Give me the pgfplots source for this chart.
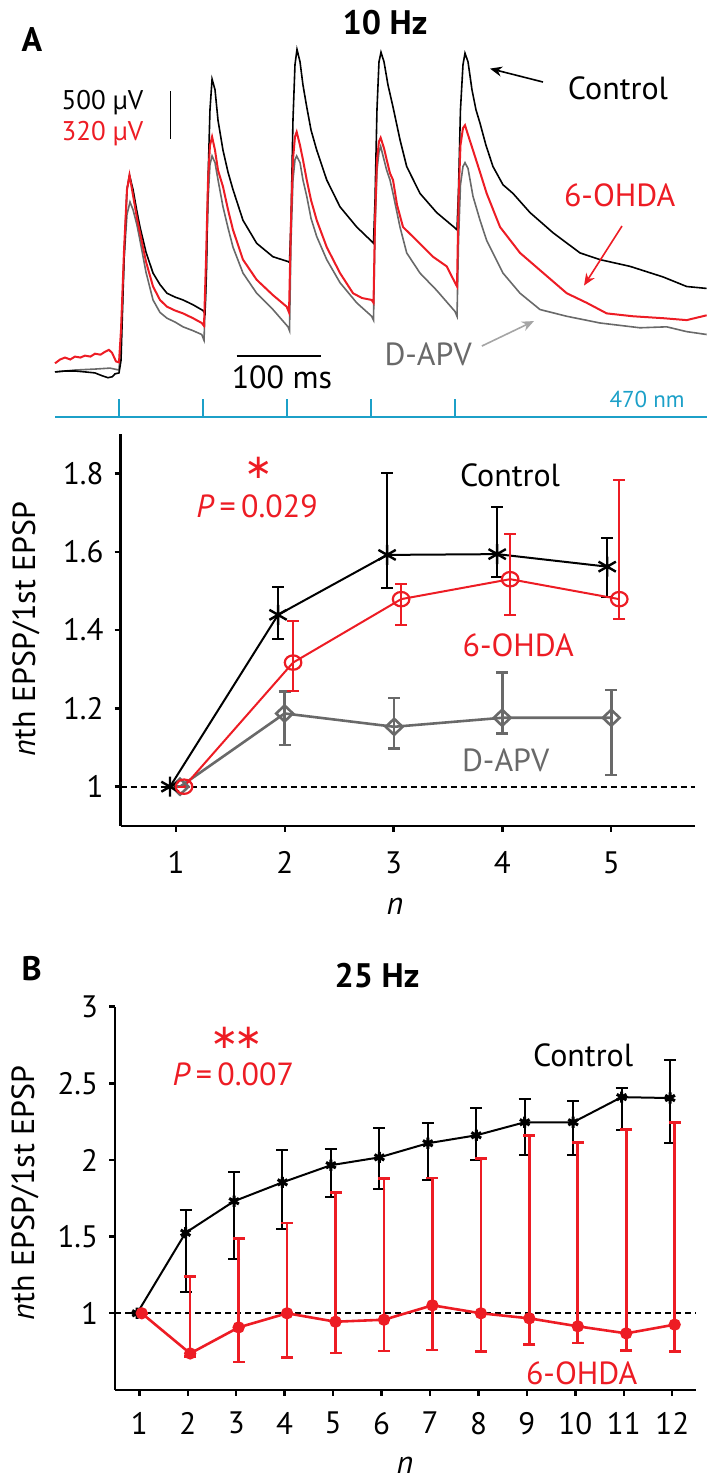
\documentclass[border=0pt]{standalone}
\usepackage{pgfplots}
\pgfplotsset{compat=1.18}
\usepackage{fontspec}
\setmainfont{PT Sans}
\newfontfamily\dejavu{DejaVu Sans}
\usetikzlibrary{arrows.meta,plotmarks}
\definecolor{myred}{RGB}{237,28,36}
\definecolor{mygray}{RGB}{105,105,105}
\definecolor{mycyan}{RGB}{28,160,200}
\definecolor{lightarrow}{RGB}{165,165,165}
\begin{document}
\fontsize{16}{19}\selectfont
\begin{tikzpicture}
\useasboundingbox (0,0) rectangle (354.5pt,742pt);
% ---------------- traces (panel A, top) ----------------
\begin{axis}[at={(25.9pt,530.1pt)}, anchor=south west, scale only axis,
  width=327.6pt, height=194.4pt, xmin=-80, xmax=700, ymin=-0.55, ymax=3.5,
  hide axis, clip=false]
\addplot[mygray, line width=0.8pt] coordinates {
(-76.2,-0.01) (-52.4,0.01) (-28.6,0.02) (-10.7,0.03) (0,0.01)
(2.4,0.32) (6,1.16) (9.5,1.63) (13.1,1.76) (16.7,1.68) (21.4,1.52) (25,1.36) (32.1,1.03) (40.5,0.74) (48.8,0.61) (57.1,0.55) (66.7,0.51) (76.2,0.46) (88.1,0.42) (98.5,0.38) (101.2,0.32)
(103.6,0.95) (106,1.78) (108.3,2.15) (110.8,2.24) (114.3,2.17) (117.9,1.99) (123.8,1.71) (129.8,1.49) (135.7,1.29) (147.6,1.02) (163.9,0.81) (183.3,0.64) (201.2,0.46) (203,0.42)
(204.8,1.36) (207.1,1.99) (209.5,2.20) (211.5,2.24) (215.5,2.17) (219,1.99) (223.5,1.82) (228.6,1.59) (235.4,1.40) (247.3,1.16) (263.1,0.92) (283,0.71) (300.8,0.57) (303,0.53)
(304.8,1.47) (307.1,2.09) (309.5,2.28) (311.5,2.34) (315.5,2.20) (318.7,2.09) (322.6,1.99) (326.2,1.85) (334.5,1.50) (342.5,1.23) (358.3,1.02) (378.2,0.84) (400,0.62) (402.4,0.57)
(404.2,1.36) (406.5,1.94) (409.5,2.13) (411.9,2.17) (415.5,2.11) (421.4,1.82) (429.8,1.57) (437.7,1.36) (457.1,1.02) (477.4,0.81) (501.2,0.64) (533,0.57) (572.6,0.50) (620.2,0.45) (652,0.46) (675.8,0.41) (699.6,0.38)};
\addplot[black, line width=0.8pt] coordinates {
(-76.2,-0.01) (-64,0.0) (-52.4,0.0) (-40,-0.01) (-28.6,-0.02) (-20,-0.05) (-13.1,-0.07) (-8,-0.06) (-4.8,-0.03) (0,-0.02)
(2.4,0.11) (6.0,1.16) (9.5,1.89) (12.5,2.04) (16.7,1.89) (21.4,1.66) (25,1.50) (32.1,1.24) (40.5,1.02) (48.8,0.90) (57.1,0.81) (66.7,0.77) (76.2,0.74) (88.1,0.69) (100,0.63) (102.4,0.60)
(104,1.0) (106,1.99) (108.3,2.72) (110.8,3.04) (114.3,2.93) (117.9,2.61) (123.8,2.30) (129.8,2.07) (135.7,1.89) (147.6,1.57) (163.9,1.33) (183.3,1.19) (201.2,1.14) (203,1.13)
(204.8,1.57) (207.1,2.61) (209.5,3.19) (211.9,3.35) (215.5,3.22) (219,2.98) (223.5,2.75) (228.6,2.51) (235.4,2.30) (247.3,1.99) (263.1,1.71) (283,1.50) (300.8,1.35) (303,1.33)
(304.8,1.78) (307.1,2.72) (309.5,3.22) (311.9,3.32) (315.5,3.22) (320.2,2.98) (326.2,2.75) (334.5,2.41) (342.5,2.13) (358.3,1.85) (378.2,1.65) (400,1.49) (402.4,1.47)
(404.2,1.89) (406.5,2.72) (409.5,3.19) (411.9,3.31) (415.5,3.22) (420.2,2.93) (425,2.72) (429.8,2.58) (436.9,2.35) (445.2,2.13) (457.1,1.94) (469,1.85) (489.3,1.65) (516.7,1.44) (548.8,1.23) (572.6,1.16) (608.3,1.09) (647.6,0.98) (675.8,0.88) (699.6,0.86)};
\addplot[myred, line width=1pt] coordinates {
(-76.2,0.08) (-70,0.12) (-64.3,0.14) (-58,0.12) (-52.4,0.15) (-46,0.14) (-40.5,0.16) (-34,0.15) (-28.6,0.18) (-22,0.17) (-16.7,0.20) (-12,0.22) (-8.3,0.19) (-3.6,0.10) (0,0.09)
(2.4,0.43) (6.0,1.26) (9.5,1.89) (12.5,2.04) (16.7,1.83) (21.4,1.59) (25,1.44) (32.1,1.14) (40.5,0.88) (48.8,0.74) (57.1,0.67) (66.7,0.63) (76.2,0.60) (88.1,0.55) (98.5,0.50) (101.2,0.47)
(103.6,1.16) (106,1.99) (108.3,2.35) (110.8,2.44) (114.3,2.30) (117.9,2.09) (123.8,1.92) (129.8,1.68) (135.7,1.47) (147.6,1.16) (163.9,0.95) (183.3,0.79) (199.6,0.67) (202.4,0.61)
(204.8,1.57) (207.1,2.20) (209.5,2.44) (211.5,2.49) (215.5,2.35) (219,2.20) (223.5,1.99) (228.6,1.78) (235.4,1.57) (247.3,1.29) (263.1,1.02) (278.6,0.81) (289.3,0.76) (300.8,0.74) (303,0.71)
(304.8,1.57) (307.1,2.20) (309.5,2.39) (311.5,2.43) (315.5,2.32) (318.7,2.20) (322.6,2.06) (326.2,1.99) (331,1.73) (338.1,1.50) (354.4,1.36) (373.8,1.19) (390.1,1.09) (400,0.92) (402.4,0.88)
(404.2,1.78) (406.5,2.35) (409.5,2.53) (411.9,2.56) (415.5,2.46) (421.4,2.30) (429.8,2.07) (437.7,1.85) (453.6,1.50) (477.4,1.23) (501.2,1.05) (533,0.81) (556.8,0.71) (580.6,0.60) (611.9,0.57) (647.6,0.55) (675.8,0.53) (699.6,0.58)};
% stimulation line (470 nm)
\addplot[mycyan, line width=0.9pt] coordinates {(-76,-0.48) (700,-0.48)};
\addplot[mycyan, line width=0.9pt, unbounded coords=jump] coordinates {
(0,-0.48) (0,-0.29) (50,nan) (100,-0.48) (100,-0.29) (150,nan) (200,-0.48) (200,-0.29) (250,nan)
(300,-0.48) (300,-0.29) (350,nan) (400,-0.48) (400,-0.29)};
% scale bars
\addplot[black, line width=0.9pt] coordinates {(61.3,2.42) (61.3,2.92)};
\addplot[black, line width=0.9pt] coordinates {(140,0.16) (240,0.16)};
\node[anchor=east, font=\fontsize{13.5}{14}\selectfont, text depth=0pt] at (axis cs:42,2.82) {500 µV};
\node[anchor=east, font=\fontsize{13.5}{14}\selectfont, text depth=0pt, text=myred] at (axis cs:42,2.50) {320 µV};
\node at (axis cs:194,-0.07) {100 ms};
\node at (axis cs:594,2.94) {Control};
\draw[-{Stealth[length=6pt,width=5pt]}, line width=0.8pt] (axis cs:504.8,3.01) -- (axis cs:441.7,3.15);
\node[text=myred] at (axis cs:596,1.83) {6-OHDA};
\draw[-{Stealth[length=6pt,width=5pt]}, myred, line width=0.8pt] (axis cs:598.8,1.51) -- (axis cs:553.6,0.89);
\node[text=mygray] at (axis cs:368,0.17) {D-APV};
\draw[-{Stealth[length=6pt,width=5pt]}, lightarrow, line width=0.8pt] (axis cs:432,0.26) -- (axis cs:494,0.52);
\node[text=mycyan, font=\fontsize{11.5}{12}\selectfont] at (axis cs:628.6,-0.30) {470 nm};
\end{axis}
% ---------------- panel A, 10 Hz summary ----------------
\begin{axis}[at={(60.25pt,329.08pt)}, anchor=south west, scale only axis,
  width=287.25pt, height=195.75pt, xmin=0.49, xmax=5.77, ymin=0.9, ymax=1.9,
  axis lines*=left, axis line style={-, line width=1.2pt},
  xtick={1,2,3,4,5}, ytick={1,1.2,1.4,1.6,1.8}, yticklabels={1,1.2,1.4,1.6,1.8},
  tick align=outside, major tick length=3pt, tick style={line width=1.2pt, black},
  tick label style={font=\fontsize{15.5}{15.5}\selectfont},
  xticklabel style={yshift=-4.5pt},
  /pgf/number format/assume math mode=true, clip=false]
\addplot[black, line width=1pt, dash pattern=on 3pt off 2pt] coordinates {(0.49,1) (5.77,1)};
\addplot[mygray, line width=1.3pt, mark=diamond, mark size=4pt, mark options={solid, xscale=1.4},
  error bars/.cd, y dir=both, y explicit, error bar style={line width=1.3pt},
  error mark options={rotate=90, mark size=3pt, line width=1.3pt}] coordinates {
(1.037,1) +- (0,0)
(1.998,1.187) += (0,0.056) -= (0,0.081)
(3.005,1.153) += (0,0.074) -= (0,0.055)
(3.998,1.176) += (0,0.116) -= (0,0.040)
(5.0,1.176) += (0,0.071) -= (0,0.146)};
\addplot[black, line width=1pt, mark=asterisk, mark size=5pt, mark options={solid, line width=1.2pt},
  error bars/.cd, y dir=both, y explicit, error bar style={line width=1pt},
  error mark options={rotate=90, mark size=3pt, line width=1pt}] coordinates {
(0.945,1) +- (0,0)
(1.938,1.439) += (0,0.072) -= (0,0.062)
(2.94,1.592) += (0,0.208) -= (0,0.085)
(3.952,1.594) += (0,0.121) -= (0,0.058)
(4.963,1.562) += (0,0.072) -= (0,0.077)};
\addplot[myred, line width=1pt, mark=o, mark size=3.6pt, mark options={solid, xscale=1.15, line width=1.1pt},
  error bars/.cd, y dir=both, y explicit, error bar style={line width=1pt},
  error mark options={rotate=90, mark size=3pt, line width=1pt}] coordinates {
(1.074,1) +- (0,0)
(2.076,1.317) += (0,0.106) -= (0,0.072)
(3.069,1.479) += (0,0.039) -= (0,0.066)
(4.071,1.530) += (0,0.115) -= (0,0.091)
(5.074,1.479) += (0,0.304) -= (0,0.051)};
\node[text=myred, font=\dejavu\fontsize{17}{17}\selectfont, anchor=base, inner sep=0pt] at (axis cs:1.763,1.813) [yshift=-5.3pt] {∗};
\node[text=myred, text depth=0pt] at (axis cs:1.745,1.717) {\textit{P}\,=\,0.029};
\node[text depth=0pt] at (axis cs:4.07,1.796) {Control};
\node[text=myred, text depth=0pt] at (axis cs:4.145,1.362) {6-OHDA};
\node[text=mygray, text depth=0pt] at (axis cs:4.03,1.068) {D-APV};
\end{axis}
% ---------------- panel B, 25 Hz ----------------
\begin{axis}[at={(57.54pt,47.03pt)}, anchor=south west, scale only axis,
  width=290.7pt, height=191.63pt, xmin=0.5, xmax=12.5, ymin=0.5, ymax=3,
  axis lines*=left, axis line style={-, line width=1.2pt},
  xtick={1,2,3,4,5,6,7,8,9,10,11,12}, ytick={1,1.5,2,2.5,3}, yticklabels={1,1.5,2,2.5,3},
  tick align=outside, major tick length=3pt, tick style={line width=1.2pt, black},
  tick label style={font=\fontsize{15.5}{15.5}\selectfont},
  xticklabel style={yshift=-2.5pt},
  /pgf/number format/assume math mode=true, clip=false]
\addplot[black, line width=1pt, dash pattern=on 3pt off 2pt] coordinates {(0.5,1) (12.5,1)};
\addplot[black, line width=1pt, mark=asterisk, mark size=2.8pt, mark options={solid, line width=1.5pt},
  error bars/.cd, y dir=both, y explicit, error bar style={line width=1pt},
  error mark options={rotate=90, mark size=3pt, line width=1pt}] coordinates {
(0.955,1) +- (0,0)
(1.955,1.525) += (0,0.152) -= (0,0.386)
(2.955,1.731) += (0,0.193) -= (0,0.374)
(3.955,1.854) += (0,0.213) -= (0,0.303)
(4.955,1.966) += (0,0.105) -= (0,0.209)
(5.955,2.017) += (0,0.190) -= (0,0.205)
(6.955,2.109) += (0,0.133) -= (0,0.239)
(7.955,2.161) += (0,0.175) -= (0,0.163)
(8.955,2.246) += (0,0.155) -= (0,0.214)
(9.955,2.246) += (0,0.142) -= (0,0.216)
(10.955,2.410) += (0,0.057) -= (0,0.213)
(11.955,2.404) += (0,0.247) -= (0,0.290)};
\addplot[myred, line width=1.3pt, mark=*, mark size=2.4pt, mark options={solid},
  error bars/.cd, y dir=both, y explicit, error bar style={line width=1.3pt},
  error mark options={rotate=90, mark size=3pt, line width=1.3pt}] coordinates {
(1.05,1) +- (0,0)
(2.05,0.738) += (0,0.503) -= (0,0.020)
(3.05,0.908) += (0,0.579) -= (0,0.225)
(4.05,1.000) += (0,0.590) -= (0,0.287)
(5.05,0.945) += (0,0.843) -= (0,0.205)
(6.05,0.958) += (0,0.920) -= (0,0.205)
(7.05,1.052) += (0,0.831) -= (0,0.292)
(8.05,1.000) += (0,1.010) -= (0,0.248)
(9.05,0.967) += (0,1.193) -= (0,0.170)
(10.05,0.915) += (0,1.199) -= (0,0.108)
(11.05,0.869) += (0,1.329) -= (0,0.112)
(12.05,0.926) += (0,1.320) -= (0,0.175)};
\node[text=myred, font=\dejavu\fontsize{17}{17}\selectfont, anchor=base, inner sep=0pt] at (axis cs:3.01,2.796) [yshift=-5.3pt] {∗\kern-2.5pt∗};
\node[text=myred, text depth=0pt] at (axis cs:2.94,2.56) {\textit{P}\,=\,0.007};
\node[text depth=0pt] at (axis cs:10.16,2.685) {Control};
\node[text=myred, text depth=0pt] at (axis cs:10.13,0.609) {6-OHDA};
\end{axis}
% ---------------- titles, panel letters, axis titles ----------------
\node[font=\bfseries\fontsize{17}{17}\selectfont, text depth=0pt] at (192.5pt,731pt) {10 Hz};
\node[font=\bfseries\fontsize{17}{17}\selectfont, text depth=0pt] at (16pt,722pt) {A};
\node[font=\bfseries\fontsize{17}{17}\selectfont, text depth=0pt] at (15.85pt,258pt) {B};
\node[font=\bfseries\fontsize{17}{17}\selectfont, text depth=0pt] at (188.5pt,254.5pt) {25 Hz};
\node[font=\itshape\fontsize{16}{16}\selectfont] at (197.5pt,288.65pt) {n};
\node[font=\itshape\fontsize{16}{16}\selectfont] at (202.5pt,9.5pt) {n};
\node[rotate=90, anchor=base] at (17.5pt,427.5pt) {\textit{n}th EPSP/1st EPSP};
\node[rotate=90, anchor=base] at (17pt,145.5pt) {\textit{n}th EPSP/1st EPSP};
\end{tikzpicture}
\end{document}
